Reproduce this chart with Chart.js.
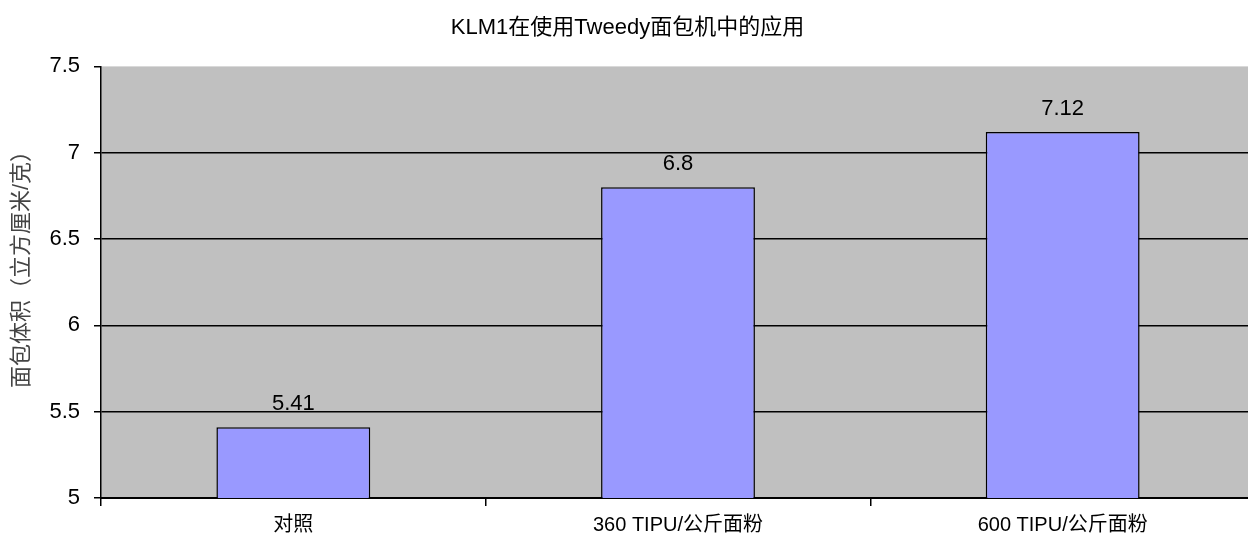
<!DOCTYPE html>
<html lang="zh">
<head>
    <meta charset="UTF-8">
    <title>KLM1在使用Tweedy面包机中的应用</title>
    <script src="https://cdn.jsdelivr.net/npm/chart.js"></script>
    <style>
        body {
            margin: 0;
            background: #fff;
            overflow: hidden;
        }

        /* область графика чуть шире окна: справа обрезается, как в оригинале */
        .chart-box {
            width: 1255px;
            height: 535px;
        }
    </style>
</head>
<body>
<div class="chart-box">
    <canvas id="chart"></canvas>
</div>

<script>
    // данные графика
    const categories = ['对照', '360 TIPU/公斤面粉', '600 TIPU/公斤面粉'];
    const volumes = [5.41, 6.8, 7.12];
    const chartTitle = 'KLM1在使用Tweedy面包机中的应用';
    const yTitle = '面包体积（立方厘米/克）';

    const FONT = 'Arial, "Liberation Sans", "Noto Sans CJK SC", sans-serif';

    // серый фон области графика, подписи значений и подпись оси Y
    const decorPlugin = {
        id: 'decor',
        beforeDraw(chart) {
            const a = chart.chartArea;
            const ctx = chart.ctx;
            ctx.save();
            ctx.fillStyle = '#c0c0c0';
            ctx.fillRect(a.left, a.top, a.right - a.left, a.bottom - a.top);
            ctx.restore();
        },
        afterDatasetsDraw(chart) {
            const ctx = chart.ctx;
            const meta = chart.getDatasetMeta(0);
            ctx.save();
            ctx.font = '22px ' + FONT;
            ctx.fillStyle = '#000';
            ctx.textAlign = 'center';
            ctx.textBaseline = 'bottom';
            meta.data.forEach((bar, i) => {
                ctx.fillText(String(volumes[i]), bar.x, bar.y - 12);
            });
            ctx.restore();
        },
        afterDraw(chart) {
            const ctx = chart.ctx;
            ctx.save();
            ctx.translate(22, 264);
            ctx.rotate(-Math.PI / 2);
            ctx.font = '22px ' + FONT;
            ctx.fillStyle = '#444';
            ctx.textAlign = 'center';
            ctx.textBaseline = 'middle';
            ctx.fillText(yTitle, 0, 0);
            ctx.restore();
        }
    };

    const ctx = document.getElementById('chart').getContext('2d');
    new Chart(ctx, {
        type: 'bar',
        data: {
            labels: categories,
            datasets: [{
                data: volumes,
                backgroundColor: '#9999ff',
                borderColor: '#000',
                borderWidth: 1.5,
                barPercentage: 0.8,
                categoryPercentage: 0.5
            }]
        },
        options: {
            responsive: true,
            maintainAspectRatio: false,
            animation: false,
            layout: {
                padding: 0
            },
            plugins: {
                legend: {display: false},
                tooltip: {enabled: false},
                title: {
                    display: true,
                    text: chartTitle,
                    color: '#000',
                    font: {family: FONT, size: 22, weight: 'normal'},
                    padding: {top: 15, bottom: 25}
                }
            },
            scales: {
                y: {
                    min: 5,
                    max: 7.5,
                    ticks: {
                        stepSize: 0.5,
                        color: '#000',
                        font: {family: FONT, size: 22},
                        padding: 14,
                        callback: v => String(Math.round(v * 10) / 10)
                    },
                    grid: {
                        color: c => (c.tick && c.tick.value === 7.5) ? 'rgba(0,0,0,0)' : '#000',
                        tickColor: '#000',
                        lineWidth: 1.5,
                        tickLength: 7
                    },
                    border: {display: true, color: '#000', width: 1.5},
                    afterFit(scale) {
                        scale.width = 101;
                    }
                },
                x: {
                    offset: true,
                    ticks: {
                        color: '#000',
                        font: {family: FONT, size: 20},
                        padding: 7
                    },
                    grid: {
                        offset: true,
                        drawOnChartArea: false,
                        color: '#000',
                        lineWidth: 1.5,
                        tickLength: 8
                    },
                    border: {display: true, color: '#000', width: 2},
                    afterFit(scale) {
                        scale.height = 37;
                    }
                }
            }
        },
        plugins: [decorPlugin]
    });
</script>
</body>
</html>
